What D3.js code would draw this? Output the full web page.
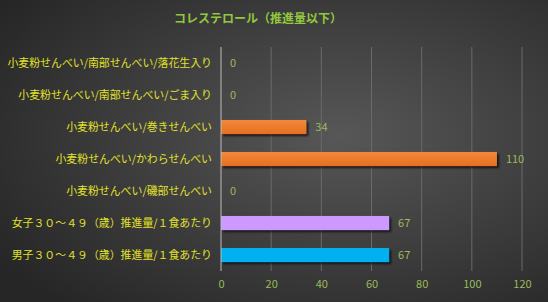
<!DOCTYPE html>
<html>
<head>
<meta charset="utf-8">
<script src="https://cdn.jsdelivr.net/npm/d3@7"></script>
<style>
  html, body { margin: 0; padding: 0; background: #333; }
  svg { display: block; }
</style>
</head>
<body>
<div id="chart-container"></div>
<script>
// Chart data
const title = "コレステロール（推進量以下）";
const categories = [
  "小麦粉せんべい/南部せんべい/落花生入り",
  "小麦粉せんべい/南部せんべい/ごま入り",
  "小麦粉せんべい/巻きせんべい",
  "小麦粉せんべい/かわらせんべい",
  "小麦粉せんべい/磯部せんべい",
  "女子３０～４９（歳）推進量/１食あたり",
  "男子３０～４９（歳）推進量/１食あたり"
];
const values = [0, 0, 34, 110, 0, 67, 67];
const barColors = ["#ED7D31", "#ED7D31", "#ED7D31", "#ED7D31", "#ED7D31", "#CC99FF", "#00B0F0"];
const xTicks = [0, 20, 40, 60, 80, 100, 120];

const W = 548, H = 302;
const plot = { left: 221, right: 522, top: 47, bottom: 271 };
const font = "'Noto Sans CJK JP', 'Noto Sans', sans-serif";

const svg = d3.select("#chart-container")
  .append("svg")
  .attr("width", W)
  .attr("height", H);

const defs = svg.append("defs");

// background radial gradient
const bg = defs.append("radialGradient")
  .attr("id", "bg")
  .attr("cx", "62%").attr("cy", "45%").attr("r", "75%");
bg.append("stop").attr("offset", "0%").attr("stop-color", "#575757");
bg.append("stop").attr("offset", "100%").attr("stop-color", "#262626");

// orange bar gradient
const og = defs.append("linearGradient")
  .attr("id", "orange").attr("x1", 0).attr("y1", 0).attr("x2", 0).attr("y2", 1);
og.append("stop").attr("offset", "0%").attr("stop-color", "#F4883C");
og.append("stop").attr("offset", "100%").attr("stop-color", "#E5701F");

const shadow = defs.append("filter").attr("id", "shadow")
  .attr("x", "-10%").attr("y", "-30%").attr("width", "130%").attr("height", "180%");
shadow.append("feDropShadow")
  .attr("dx", 2).attr("dy", 2).attr("stdDeviation", 1.2)
  .attr("flood-color", "#000").attr("flood-opacity", 0.7);

svg.append("rect")
  .attr("width", W).attr("height", H)
  .attr("fill", "url(#bg)");

// scales
const x = d3.scaleLinear()
  .domain([0, 120])
  .range([plot.left, plot.right]);

const y = d3.scaleBand()
  .domain(categories)
  .range([plot.top, plot.bottom])
  .paddingInner(0.56)
  .paddingOuter(0.28);

// vertical gridlines
svg.selectAll(".grid")
  .data(xTicks.slice(1))
  .join("line")
  .attr("x1", d => x(d)).attr("x2", d => x(d))
  .attr("y1", plot.top).attr("y2", plot.bottom)
  .attr("stroke", "#6a6a6a")
  .attr("stroke-width", 1);

// x axis labels
svg.append("g")
  .attr("transform", `translate(0,${plot.bottom})`)
  .call(d3.axisBottom(x).tickValues(xTicks).tickSize(0).tickPadding(9))
  .call(g => g.select(".domain").remove())
  .selectAll(".tick text")
  .attr("fill", "#9BBB59")
  .style("font-size", "11px")
  .style("font-family", font);

// category labels
svg.append("g")
  .attr("transform", `translate(${plot.left},0)`)
  .call(d3.axisLeft(y).tickSize(0).tickPadding(9))
  .call(g => g.select(".domain").remove())
  .selectAll(".tick text")
  .attr("fill", "#E2E22A")
  .style("font-size", "10.9px")
  .style("font-family", font);

// bars
svg.selectAll(".bar")
  .data(values)
  .join("rect")
  .attr("x", x(0))
  .attr("y", (d, i) => y(categories[i]))
  .attr("width", d => x(d) - x(0))
  .attr("height", y.bandwidth())
  .attr("fill", (d, i) => barColors[i] === "#ED7D31" ? "url(#orange)" : barColors[i])
  .attr("filter", d => d > 0 ? "url(#shadow)" : null);

// zero axis line
svg.append("line")
  .attr("x1", x(0)).attr("x2", x(0))
  .attr("y1", plot.top).attr("y2", plot.bottom)
  .attr("stroke", "#bdbdbd")
  .attr("stroke-width", 1);

// data labels
svg.selectAll(".lbl")
  .data(values)
  .join("text")
  .attr("x", d => x(d) + 9)
  .attr("y", (d, i) => y(categories[i]) + y.bandwidth() / 2)
  .attr("dy", "0.35em")
  .attr("fill", "#9BBB59")
  .style("font-size", "11px")
  .style("font-family", font)
  .text(d => d);

// title
svg.append("text")
  .attr("x", 258)
  .attr("y", 23)
  .attr("text-anchor", "middle")
  .attr("fill", "#92C83E")
  .style("font-size", "12px")
  .style("font-weight", "bold")
  .style("font-family", font)
  .text(title);
</script>
</body>
</html>
